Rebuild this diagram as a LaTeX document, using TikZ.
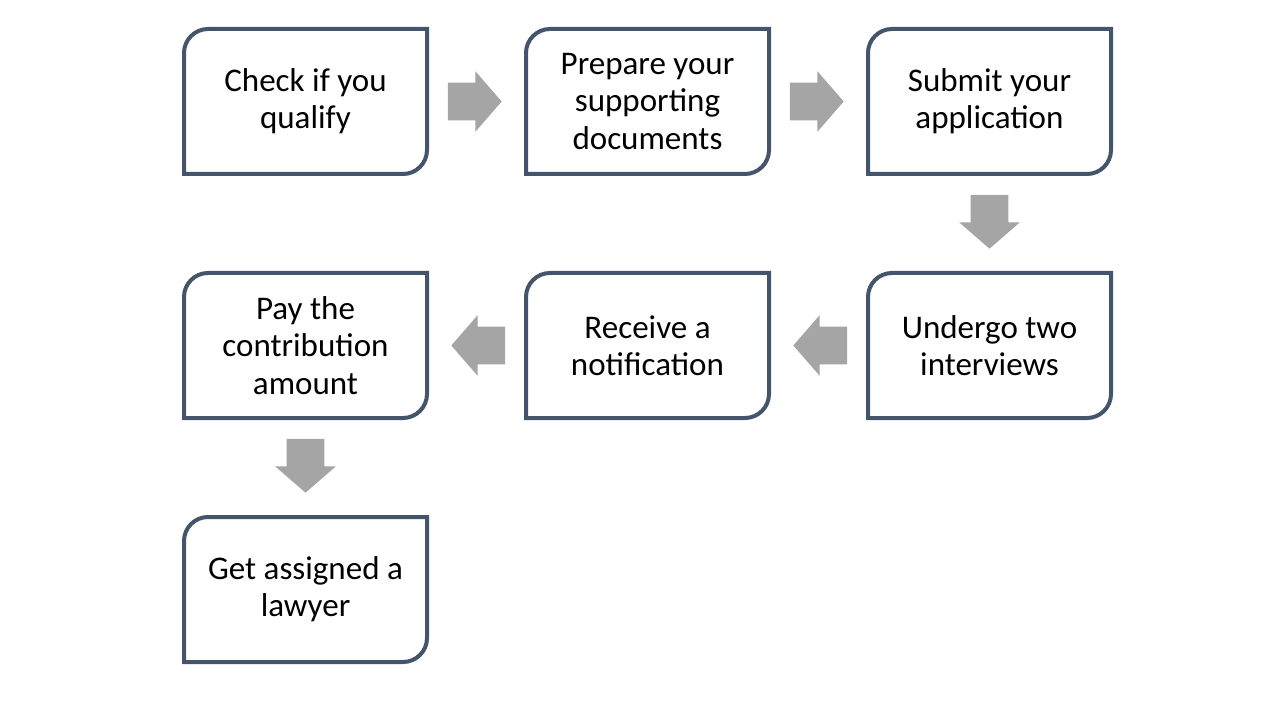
\documentclass[tikz,border=0pt]{standalone}
\usepackage{fontspec}
\setmainfont{Carlito}
\usepackage{tikz}
\usetikzlibrary{positioning,shapes.arrows}
\definecolor{boxblue}{HTML}{44546A}
\definecolor{arrowgray}{HTML}{A5A5A5}

\newcommand{\stepoutline}[1]{%
  \draw[line width=0.1cm,boxblue] (#1.south west) -- ([yshift=-0.6cm]#1.north west)
    arc[start angle=180,end angle=90,radius=0.6cm] -- (#1.north east)
    -- ([yshift=0.6cm]#1.south east) arc[start angle=0,end angle=-90,radius=0.6cm] -- cycle;}

\begin{document}
\begin{tikzpicture}[node distance=2.475cm,every node/.style={font=\fontsize{23.5}{26.5}\selectfont}]
  \tikzstyle{stepbox}=[minimum width=6.075cm,minimum height=3.625cm,outer sep=0pt,align=center]
  \tikzstyle{blockarrow}=[single arrow,fill=arrowgray,minimum height=1.28cm,inner sep=0.4625cm,
    single arrow head extend=0.2875cm,single arrow tip angle=98,outer sep=0pt,pos=0.4]

  \useasboundingbox (0,0) rectangle (32,18);

  \node[stepbox] (A) at (7.6375,15.4625) {Check if you\\qualify};
  \node[stepbox] (B) [right=of A] {Prepare your\\supporting\\documents};
  \node[stepbox] (C) [right=of B] {Submit your\\application};
  \node[stepbox] (D) [below=of C] {Undergo two\\interviews};
  \node[stepbox] (E) [left=of D]  {Receive a\\notification};
  \node[stepbox] (F) [left=of E]  {Pay the\\contribution\\amount};
  \node[stepbox] (G) [below=of F] {Get assigned a\\lawyer};

  \foreach \n in {A,...,G} {\stepoutline{\n}}

  \path (A) -- node[blockarrow] {} (B)
        (B) -- node[blockarrow] {} (C)
        (C) -- node[blockarrow,shape border rotate=270] {} (D)
        (D) -- node[blockarrow,shape border rotate=180] {} (E)
        (E) -- node[blockarrow,shape border rotate=180] {} (F)
        (F) -- node[blockarrow,shape border rotate=270] {} (G);
\end{tikzpicture}
\end{document}
